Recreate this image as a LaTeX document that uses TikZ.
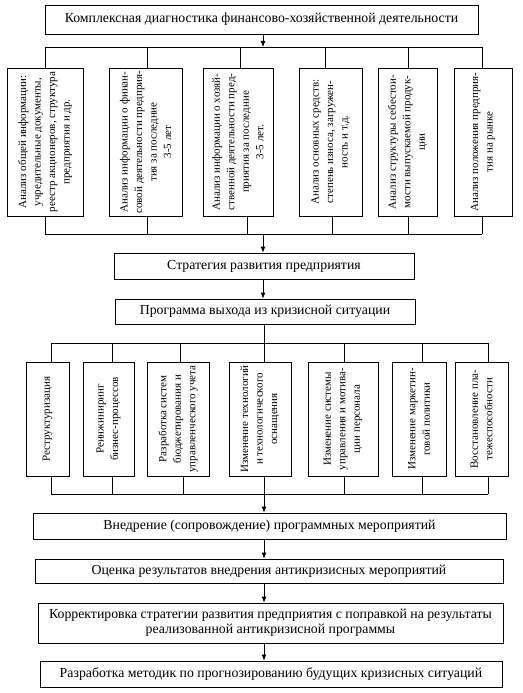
\documentclass[tikz,border=0pt]{standalone}
\usepackage{fontspec}
\setmainfont{Liberation Serif}
\usetikzlibrary{arrows.meta}
\tikzset{
  hbox/.style={draw, line width=0.8pt, rectangle, inner sep=1pt, align=center, font=\fontsize{13.8}{15}\selectfont},
  vbox/.style={draw, line width=0.8pt, rectangle, rotate=90, inner sep=1pt, align=center, font=\fontsize{11}{14.5}\selectfont},
  ln/.style={line width=0.8pt},
  arr/.style={line width=0.8pt, -{Latex[length=6pt,width=5pt]}}
}
\begin{document}
\begin{tikzpicture}[x=1pt,y=-1pt]
\useasboundingbox (0,0) rectangle (522,693);
% top box
\node[hbox, minimum width=433pt, minimum height=29pt] (T) at (261.5,19.5) {Комплексная диагностика финансово-хозяйственной деятельности};
% row 1 boxes
\node[vbox, minimum width=148pt, minimum height=76pt] (A1) at (45,142) {Анализ общей информации:\\учредительные документы,\\реестр акционеров, структура\\предприятия и др.};
\node[vbox, minimum width=148pt, minimum height=73pt] (A2) at (145.5,142) {Анализ информации о финан-\\совой деятельности предприя-\\тия за последние\\3-5 лет};
\node[vbox, minimum width=148pt, minimum height=70pt] (A3) at (238,142) {Анализ информации о хозяй-\\ственной деятельности пред-\\приятия за последние\\3-5 лет.};
\node[vbox, minimum width=148pt, minimum height=63pt] (A4) at (330.5,142) {Анализ основных средств:\\степень износа, загружен-\\ность и т.д.};
\node[vbox, minimum width=148pt, minimum height=59pt] (A5) at (407.5,142) {Анализ структуры себестои-\\мости выпускаемой продук-\\ции};
\node[vbox, minimum width=148pt, minimum height=58pt] (A6) at (483,142) {Анализ положения предприя-\\тия на рынке};
% buses row 1
\coordinate (j1) at (263,47);
\coordinate (u1) at (45,47);
\coordinate (u2) at (147,47);
\coordinate (u3) at (240,47);
\coordinate (u4) at (325,47);
\coordinate (u5) at (408,47);
\coordinate (u6) at (482,47);
\draw[arr] (T.south -| j1) -- (j1);
\draw[ln] (u1) -- (u6);
\foreach \i in {1,...,6} {\draw[ln] (u\i) -- (u\i |- A\i.east);}
\coordinate (l1) at (45,234);
\coordinate (l2) at (147,234);
\coordinate (l3) at (247,234);
\coordinate (l4) at (332,234);
\coordinate (l5) at (408,234);
\coordinate (l6) at (482,234);
\coordinate (j2) at (263,234);
\draw[ln] (l1) -- (l6);
\foreach \i in {1,...,6} {\draw[ln] (l\i) -- (l\i |- A\i.west);}
% strategy and program
\node[hbox, minimum width=300pt, minimum height=26pt] (S) at (264,266) {Стратегия развития предприятия};
\node[hbox, minimum width=300pt, minimum height=25pt] (P) at (265,311.5) {Программа выхода из кризисной ситуации};
\draw[arr] (j2) -- (j2 |- S.north);
\draw[arr] (S.south -| j2) -- (j2 |- P.north);
% row 2 boxes
\node[vbox, minimum width=114pt, minimum height=43pt] (B1) at (47.5,419) {Реструктуризация};
\node[vbox, minimum width=114pt, minimum height=51pt] (B2) at (108.5,419) {Реинжиниринг\\бизнес-процессов};
\node[vbox, minimum width=114pt, minimum height=62pt] (B3) at (178,419) {Разработка систем\\бюджетирования и\\управленческого учета};
\node[vbox, minimum width=114pt, minimum height=62pt] (B4) at (260,419) {Изменение технологий\\и технологического\\оснащения};
\node[vbox, minimum width=114pt, minimum height=70pt] (B5) at (343,419) {Изменение системы\\управления и мотива-\\ции персонала};
\node[vbox, minimum width=114pt, minimum height=54pt] (B6) at (419,419) {Изменение маркетин-\\говой политики};
\node[vbox, minimum width=114pt, minimum height=53pt] (B7) at (481.5,419) {Восстановление пла-\\тежеспособности};
\coordinate (v1) at (51,343);
\coordinate (v2) at (112,343);
\coordinate (v3) at (180,343);
\coordinate (v4) at (264,343);
\coordinate (v5) at (344,343);
\coordinate (v6) at (422,343);
\coordinate (v7) at (488,343);
\draw[ln] (P.south -| v4) -- (v4);
\draw[ln] (v1) -- (v7);
\foreach \i in {1,...,7} {\draw[ln] (v\i) -- (v\i |- B\i.east);}
\coordinate (w1) at (51,494);
\coordinate (w2) at (112,494);
\coordinate (w3) at (183,494);
\coordinate (w4) at (264,494);
\coordinate (w5) at (344,494);
\coordinate (w6) at (422,494);
\coordinate (w7) at (488,494);
\draw[ln] (w1) -- (w7);
\foreach \i in {1,...,7} {\draw[ln] (w\i) -- (w\i |- B\i.west);}
% bottom chain
\node[hbox, minimum width=473pt, minimum height=26pt] (V) at (269.5,526) {Внедрение (сопровождение) программных мероприятий};
\node[hbox, minimum width=468pt, minimum height=24pt] (O) at (269,571) {Оценка результатов внедрения антикризисных мероприятий};
\node[hbox, minimum width=465pt, minimum height=40pt] (K) at (270.5,623) {Корректировка стратегии развития предприятия с поправкой на результаты\\реализованной антикризисной программы};
\node[hbox, minimum width=462pt, minimum height=26pt] (R) at (271,674) {Разработка методик по прогнозированию будущих кризисных ситуаций};
\draw[arr] (w4) -- (w4 |- V.north);
\draw[arr] (V.south -| w4) -- (w4 |- O.north);
\draw[arr] (O.south -| w4) -- (w4 |- K.north);
\draw[arr] (K.south -| w4) -- (w4 |- R.north);
\end{tikzpicture}
\end{document}
